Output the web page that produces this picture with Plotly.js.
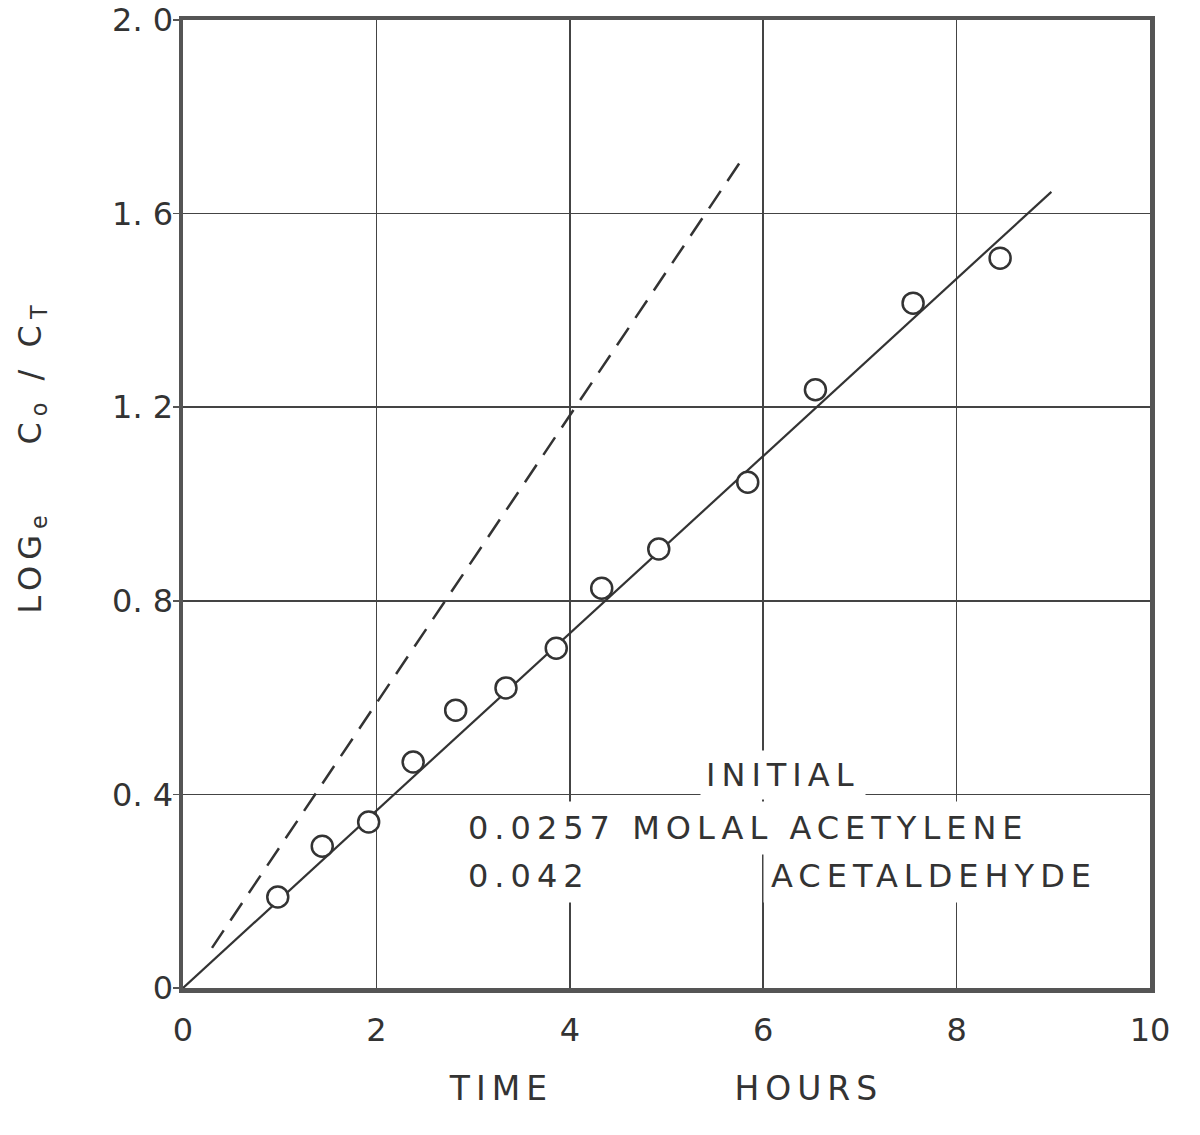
<!DOCTYPE html>
<html>
<head>
<meta charset="utf-8">
<script src="https://cdn.plot.ly/plotly-3.0.1.min.js"></script>
<style>
html,body{margin:0;padding:0;background:#fff;}
#chart{width:1200px;height:1135px;}
.xtitle { letter-spacing: 6px; }
.annotation-text { letter-spacing: 6px; }
</style>
</head>
<body>
<div id="chart"></div>
<script>
// Measured points: time (hours) vs log_e(Co/Ct)
const timeHours = [0.98, 1.44, 1.92, 2.38, 2.82, 3.34, 3.86, 4.33, 4.92, 5.84, 6.54, 7.55, 8.45];
const logRatio  = [0.188, 0.293, 0.343, 0.467, 0.574, 0.620, 0.702, 0.826, 0.907, 1.045, 1.236, 1.415, 1.508];

// Solid fitted line (end points)
const fitX = [0, 8.98];
const fitY = [0, 1.645];

// Dashed line (end points)
const dashX = [0.30, 5.79];
const dashY = [0.083, 1.715];

const xTickVals = [0, 2, 4, 6, 8, 10];
const xTickText = ["0", "2", "4", "6", "8", "10"];
const yTickVals = [0, 0.4, 0.8, 1.2, 1.6, 2.0];
const yTickText = ["0", "0. 4", "0. 8", "1. 2", "1. 6", "2. 0"];

const ink = "#333333";
const fontFam = "DejaVu Sans, sans-serif";
const nb = n => "\u00A0".repeat(n);

const traces = [
  {x: dashX, y: dashY, mode: "lines", line: {color: ink, width: 2.5, dash: "21px,12px"}, hoverinfo: "skip"},
  {x: fitX, y: fitY, mode: "lines", line: {color: ink, width: 2.2}, hoverinfo: "skip"},
  {x: timeHours, y: logRatio, mode: "markers",
   marker: {symbol: "circle", size: 21, color: "#ffffff", line: {color: ink, width: 2.5}}}
];

const annFont = {family: fontFam, size: 32, color: ink};
const layout = {
  width: 1200, height: 1135,
  margin: {l: 183, r: 50, t: 20, b: 147},
  paper_bgcolor: "#ffffff", plot_bgcolor: "#ffffff",
  showlegend: false,
  xaxis: {
    range: [0, 10], tickvals: xTickVals, ticktext: xTickText,
    showgrid: true, gridcolor: "#444", gridwidth: 1.6,
    zeroline: false, showline: true, mirror: true, linecolor: "#555", linewidth: 4.5,
    ticks: "", ticklabelstandoff: 10, tickfont: {family: fontFam, size: 32, color: ink},
    title: {text: "TIME" + nb(11) + "HOURS", font: {family: fontFam, size: 33, color: ink}, standoff: 30}
  },
  yaxis: {
    range: [0, 2.0], tickvals: yTickVals, ticktext: yTickText,
    showgrid: true, gridcolor: "#444", gridwidth: 1.6,
    zeroline: false, showline: true, mirror: true, linecolor: "#555", linewidth: 4.5,
    ticks: "outside", ticklen: 6, tickcolor: "#555", tickwidth: 1.5, ticklabelstandoff: -7,
    tickfont: {family: fontFam, size: 32, color: ink}
  },
  annotations: [
    {x: -0.157, y: 0.549, xref: "paper", yref: "paper", textangle: -90,
     text: "LOG<sub>e</sub>" + nb(4) + "C<sub>o</sub> / C<sub>T</sub>", showarrow: false,
     font: {family: fontFam, size: 32, color: ink}, xanchor: "center", yanchor: "middle"},
    {x: 6.2, y: 0.44, xref: "x", yref: "y", text: "INITIAL", showarrow: false,
     font: annFont, bgcolor: "#ffffff", borderpad: 5, xanchor: "center", yanchor: "middle"},
    {x: 2.86, y: 0.331, xref: "x", yref: "y", text: "0.0257 MOLAL ACETYLENE", showarrow: false,
     font: annFont, bgcolor: "#ffffff", borderpad: 7, xanchor: "left", yanchor: "middle"},
    {x: 2.86, y: 0.231, xref: "x", yref: "y", text: "0.042", showarrow: false,
     font: annFont, bgcolor: "#ffffff", borderpad: 7, xanchor: "left", yanchor: "middle"},
    {x: 6.0, y: 0.231, xref: "x", yref: "y", text: "ACETALDEHYDE", showarrow: false,
     font: annFont, bgcolor: "#ffffff", borderpad: 7, xanchor: "left", yanchor: "middle"}
  ]
};

Plotly.newPlot("chart", traces, layout, {displayModeBar: false, staticPlot: true});
</script>
</body>
</html>
